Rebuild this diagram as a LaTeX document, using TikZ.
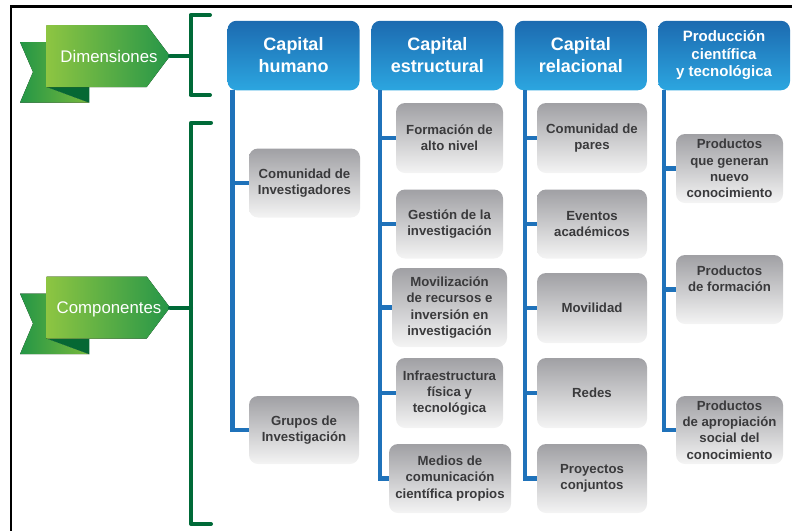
\documentclass[tikz,border=0pt]{standalone}
\usepackage{fontspec}
\setmainfont{Liberation Sans}
\definecolor{hdrtop}{RGB}{28,106,176}
\definecolor{hdrbot}{RGB}{44,166,224}
\definecolor{boxtop}{RGB}{160,160,164}
\definecolor{boxbot}{RGB}{244,244,244}
\definecolor{boxtxt}{RGB}{58,58,60}
\definecolor{linkblue}{RGB}{31,114,186}
\definecolor{brkgreen}{RGB}{0,106,56}
\definecolor{flagL}{RGB}{141,197,66}
\definecolor{flagR}{RGB}{38,150,72}
\definecolor{tailL}{RGB}{36,150,70}
\definecolor{tailR}{RGB}{120,185,60}
\definecolor{flagD}{RGB}{6,104,52}
%% ribbon label: #1 = y of its middle, #2 = name, #3 = text
\newcommand{\greenflag}[3]{%
\begin{scope}[shift={(0,#1)}]
\fill[left color=tailL,right color=tailR](20,-14)--(46.7,-14)--(46.7,31)--(89.3,46.7)--(20,46.7)--(33,16)--cycle;
\fill[flagD](46.7,31)--(89.3,31)--(89.3,46.7)--cycle;
\fill[left color=flagL,right color=flagR](46.7,-31)--(146.7,-31)--(170,0)--(146.7,31)--(46.7,31)--cycle;
\node[flagtext,anchor=base] (#2) at (109,6) {#3};
\coordinate (#2tip) at (170,0);
\end{scope}}

\begin{document}
\begin{tikzpicture}[x=1pt,y=-1pt,
  hdrbox/.style={rounded corners=9pt,top color=hdrtop,bottom color=hdrbot,
    minimum width=132pt,minimum height=69.5pt,inner sep=0pt,text=white,
    align=center,font=\bfseries\fontsize{18}{22}\selectfont},
  itembox/.style={rounded corners=9pt,top color=boxtop,bottom color=boxbot,
    minimum height=69pt,inner sep=0pt,text=boxtxt,align=center,
    font=\bfseries\fontsize{13.2}{16.2}\selectfont},
  bline/.style={draw=linkblue,line width=4.5pt},
  gline/.style={draw=brkgreen,line width=4pt,line cap=round,line join=round},
  flagtext/.style={text=white,inner sep=0pt,font=\fontsize{16.8}{20}\selectfont}]
\useasboundingbox (0,0) rectangle (792,531);
%% frame
\draw[line width=2.5pt](792,6.5)--(11.2,6.5)--(11.2,531);
%% ribbons and brackets
\greenflag{56}{dims}{Dimensiones}
\greenflag{307.5}{comps}{Componentes}
\coordinate (brkA) at (190.5,15);
\coordinate (brkB) at (191,122.7);
\draw[gline](210,15)--(brkA)--(190.5,95)--(210,95);
\draw[gline](211,122.7)--(brkB)--(191,524)--(211,524);
\draw[gline](dimstip)--(dimstip -| brkA);
\draw[gline](compstip)--(compstip -| brkB);
%% headers
\node[hdrbox] (hum) at (293.5,55.5) {Capital\\humano};
\node[hdrbox] (est) at (437.3,55.5) {Capital\\estructural};
\node[hdrbox] (rel) at (580.8,55.5) {Capital\\relacional};
\node[hdrbox,font=\bfseries\fontsize{15}{17.5}\selectfont] (prod) at (724,55.5) {Producción\\científica\\y tecnológica};
%% capital humano
\node[itembox,minimum width=111pt] (hum1) at (304.5,183) {Comunidad de\\Investigadores};
\node[itembox,minimum width=110pt,minimum height=68pt] (hum2) at (304,430) {Grupos de\\Investigación};
\coordinate (humx) at ([xshift=5pt]hum.south west);
\draw[bline](humx) |- (hum2.west);
\draw[bline](hum1.west) -- (hum1.west -| humx);
%% capital estructural
\node[itembox,minimum width=107pt,minimum height=70pt] (est1) at (449.5,138) {Formación de\\alto nivel};
\node[itembox,minimum width=107pt] (est2) at (449.5,224) {Gestión de la\\investigación};
\node[itembox,minimum width=115pt,minimum height=79pt] (est3) at (449.5,307.5) {Movilización\\de recursos e\\inversión en\\investigación};
\node[itembox,minimum width=107pt,minimum height=70pt] (est4) at (449.5,393) {Infraestructura\\física y\\tecnológica};
\node[itembox,minimum width=122pt] (est5) at (450,478.5) {Medios de\\comunicación\\científica propios};
\coordinate (estx) at ([xshift=9pt]est.south west);
\draw[bline](estx) |- (est5.west);
\foreach \k in {1,2,3,4}
  \draw[bline](est\k.west) -- (est\k.west -| estx);
%% capital relacional
\node[itembox,minimum width=110pt,minimum height=70pt] (rel1) at (592,138) {Comunidad de\\pares};
\node[itembox,minimum width=110pt] (rel2) at (592,224) {Eventos\\académicos};
\node[itembox,minimum width=110pt,minimum height=70pt] (rel3) at (592,308) {Movilidad};
\node[itembox,minimum width=110pt,minimum height=70pt] (rel4) at (592,393) {Redes};
\node[itembox,minimum width=110pt] (rel5) at (592,478.5) {Proyectos\\conjuntos};
\coordinate (relx) at ([xshift=10.5pt]rel.south west);
\draw[bline](relx) |- (rel5.west);
\foreach \k in {1,2,3,4}
  \draw[bline](rel\k.west) -- (rel\k.west -| relx);
%% produccion
\node[itembox,minimum width=107pt] (prod1) at (729.5,168.5) {Productos\\que generan\\nuevo\\conocimiento};
\node[itembox,minimum width=107pt] (prod2) at (729.5,289.5) {Productos\\de formación\\[5pt]};
\node[itembox,minimum width=107pt,minimum height=68pt] (prod3) at (729.5,430) {Productos\\de apropiación\\social del\\conocimiento};
\coordinate (prodx) at ([xshift=6pt]prod.south west);
\draw[bline](prodx) |- (prod3.west);
\foreach \k in {1,2}
  \draw[bline](prod\k.west) -- (prod\k.west -| prodx);
\end{tikzpicture}
\end{document}
